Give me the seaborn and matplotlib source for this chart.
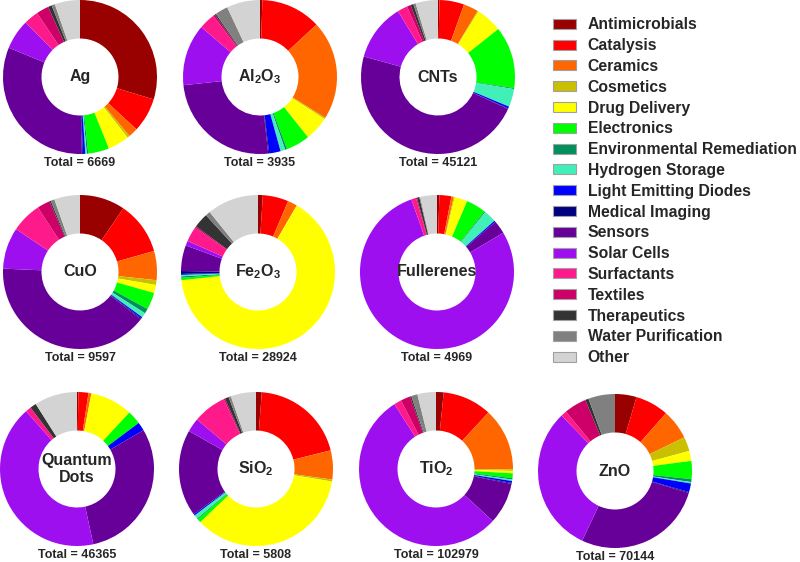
import seaborn as sns
import matplotlib.pyplot as plt
from matplotlib.patches import Patch

# application categories (clockwise from 12 o'clock) and their colours
categories = ['Antimicrobials', 'Catalysis', 'Ceramics', 'Cosmetics', 'Drug Delivery',
              'Electronics', 'Environmental Remediation', 'Hydrogen Storage',
              'Light Emitting Diodes', 'Medical Imaging', 'Sensors', 'Solar Cells',
              'Surfactants', 'Textiles', 'Therapeutics', 'Water Purification', 'Other']
colors = ['#990000', '#ff0000', '#ff6600', '#c8c000', '#ffff00', '#00ff00', '#00905c',
          '#40f0b8', '#0000ff', '#000080', '#660099', '#9e0ff0', '#ff1a8c', '#cc0066',
          '#333333', '#808080', '#d3d3d3']

# share of publications (%) per category
ag = [29.7, 7.2, 2.0, 0.5, 4.5, 4.4, 0.3, 0.3, 0.5, 0.2, 31.6, 6.3, 3.1, 2.6, 0.8, 0.7, 5.3]
al2o3 = [0.5, 12.6, 20.8, 0.3, 5.1, 5.0, 0.4, 1.0, 2.4, 0.2, 25.0, 12.9, 3.4, 0.4, 0.3, 2.7, 7.0]
cnts = [0.3, 5.2, 3.1, 0.2, 5.5, 13.0, 0.2, 3.8, 0.4, 0.1, 47.5, 12.0, 2.1, 0.8, 0.6, 0.5, 4.7]
cuo = [9.5, 11.1, 6.1, 1.0, 1.7, 3.6, 1.0, 1.0, 0.3, 0.2, 40.2, 8.7, 6.4, 2.7, 0.3, 0.8, 5.4]
fe2o3 = [1.0, 5.4, 2.0, 0.0, 64.9, 0.5, 0.3, 0.3, 0.2, 0.6, 5.4, 1.0, 3.2, 0.3, 3.1, 1.0, 10.8]
fullerenes = [0.5, 2.5, 0.5, 0.2, 2.7, 4.2, 0.2, 2.6, 0.3, 0.0, 2.8, 78.1, 1.0, 0.2, 0.5, 0.2, 3.5]
qdots = [0.3, 2.1, 0.6, 0.0, 8.9, 2.9, 0.0, 0.0, 1.8, 0.0, 30.0, 41.9, 1.2, 0.0, 1.3, 0.0, 9.0]
sio2 = [1.2, 19.9, 6.1, 0.4, 35.3, 0.8, 0.2, 0.8, 0.3, 0.0, 18.2, 2.9, 7.0, 0.3, 0.8, 0.5, 5.3]
tio2 = [1.6, 10.3, 13.2, 0.3, 0.5, 1.0, 0.3, 0.3, 0.4, 0.2, 8.7, 54.1, 1.6, 2.0, 0.3, 1.3, 3.9]
zno = [4.5, 7.0, 6.3, 3.0, 2.1, 3.8, 0.6, 0.3, 1.8, 0.2, 27.4, 30.8, 1.2, 4.7, 0.7, 5.6, 0.0]

materials = ['Ag', r'$\mathbf{Al_2O_3}$', 'CNTs', 'CuO', r'$\mathbf{Fe_2O_3}$', 'Fullerenes',
             'Quantum\nDots', r'$\mathbf{SiO_2}$', r'$\mathbf{TiO_2}$', 'ZnO']
totals = [6669, 3935, 45121, 9597, 28924, 4969, 46365, 5808, 102979, 70144]
shares = [ag, al2o3, cnts, cuo, fe2o3, fullerenes, qdots, sio2, tio2, zno]

sns.set_theme(style='white')
plt.rcParams['font.family'] = ['Liberation Sans', 'DejaVu Sans']
plt.rcParams['mathtext.fontset'] = 'custom'
plt.rcParams['mathtext.bf'] = 'Liberation Sans:bold'
plt.rcParams['mathtext.rm'] = 'Liberation Sans'

W, H, R = 800, 562, 77
# donut centres in pixels (x, y from top)
centres = [(80, 77), (260, 77), (438, 77),
           (80, 272), (258, 272), (437, 272),
           (77, 469), (256, 469), (436, 469), (615, 471)]

fig = plt.figure(figsize=(8, 5.62), dpi=100)
for vals, name, total, (cx, cy) in zip(shares, materials, totals, centres):
    ax = fig.add_axes([(cx - R) / W, 1 - (cy + R) / H, 2 * R / W, 2 * R / H])
    ax.pie(vals, colors=colors, startangle=90, counterclock=False, radius=1,
           wedgeprops=dict(width=0.5, edgecolor='none'))
    ax.set_xlim(-1, 1)
    ax.set_ylim(-1, 1)
    ax.text(0, 0, name, ha='center', va='center', fontsize=11.5, fontweight='bold',
            linespacing=1.1)
    ax.axis('off')
    fig.text(cx / W, 1 - (cy + 86) / H, f'Total = {total}', ha='center', va='center',
             fontsize=9, fontweight='bold')

handles = [Patch(facecolor=c, edgecolor='#a0a0a0', linewidth=0.8) for c in colors]
fig.legend(handles, categories, loc='upper left', bbox_to_anchor=(547 / W, 1 - 11 / H),
           frameon=False, prop=dict(size=11.3, weight='bold'), handlelength=1.45,
           handleheight=0.6, handletextpad=0.75, labelspacing=0.37, borderaxespad=0)

fig.savefig('out.png', dpi=100)
